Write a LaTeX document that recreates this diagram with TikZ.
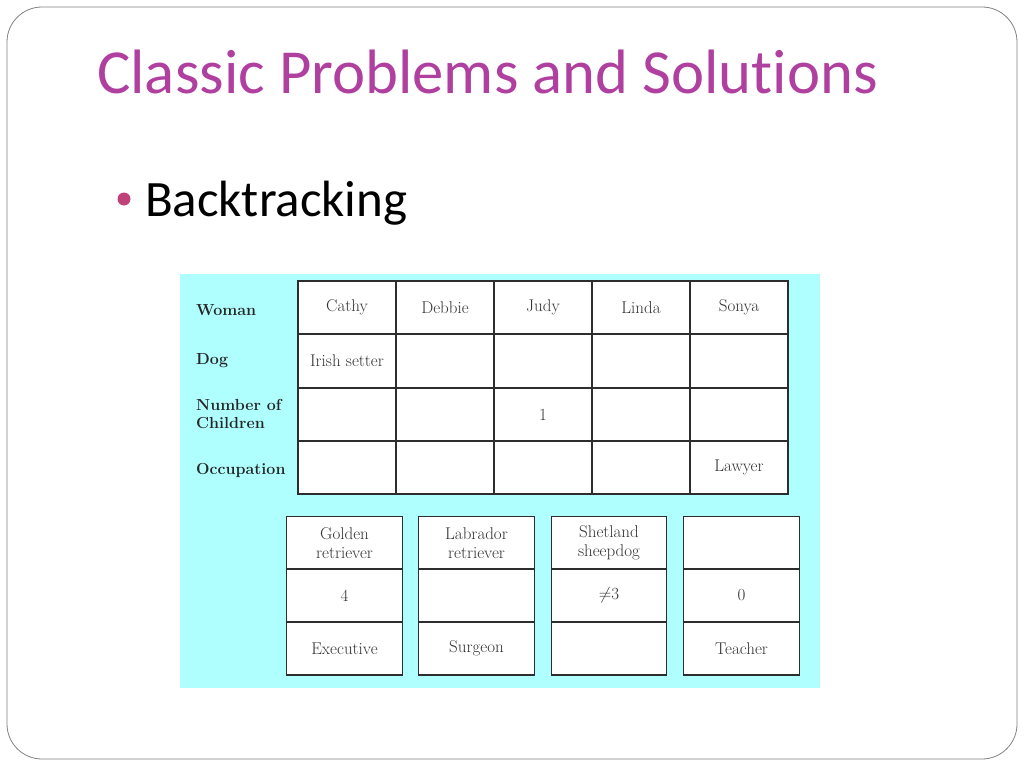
\documentclass[tikz,border=0pt]{standalone}
\usepackage{fontspec}
\newfontfamily\slidefont[Ligatures=NoCommon]{Carlito}
\definecolor{titlepurple}{RGB}{176,64,160}
\definecolor{bulletpink}{RGB}{192,64,120}
\definecolor{tablecyan}{RGB}{176,255,255}
\definecolor{gridgray}{RGB}{45,45,45}

\begin{document}
\begin{tikzpicture}[x=1pt,y=-1pt,
  cell/.style={draw=gridgray, line width=1.4pt, fill=white, minimum width=98pt,
    minimum height=53.25pt, inner sep=0pt, align=center, text=black!80,
    font=\fontsize{17}{19}\selectfont},
  card/.style={cell, minimum width=115.5pt, minimum height=53pt},
  rowlabel/.style={anchor=west, inner sep=0pt, align=left, text=black!85,
    font=\fontsize{16}{18}\selectfont\bfseries}]

  \useasboundingbox (0,0) rectangle (1024,768);
  \draw[gray, line width=0.8pt, rounded corners=35pt] (7,7) rectangle (1017,759);

  % slide title and bullet
  \node[anchor=base west, inner sep=0pt, text=titlepurple,
    font=\slidefont\fontsize{62.7}{64}\selectfont] (title) at (97,93) {Classic Problems and Solutions};
  \node[circle, fill=bulletpink, minimum size=13pt, inner sep=0pt] (dot) at (124,199) {};
  \node[anchor=base west, inner sep=0pt,
    font=\slidefont\fontsize{51}{53}\selectfont] (topic) at (145,216) {Backtracking};

  \fill[tablecyan] (180,274) rectangle (820,688);

  % row labels
  \node[rowlabel] (lwoman) at (196,310) {Woman};
  \node[rowlabel] (ldog) at (196,361) {Dog};
  \node[rowlabel] (lchild) at (196,414) {Number of\\Children};
  \node[rowlabel] (ljob) at (196,470) {Occupation};

  % top table
  \node[cell] (w1) at (347,307.5) {Cathy};
  \node[cell] (w2) at (445,307.5) {Debbie};
  \node[cell] (w3) at (543,307.5) {Judy};
  \node[cell] (w4) at (641,307.5) {Linda};
  \node[cell] (w5) at (739,307.5) {Sonya};

  \node[cell] (d1) at (347,361) {Irish setter};
  \node[cell] (d2) at (445,361) {};
  \node[cell] (d3) at (543,361) {};
  \node[cell] (d4) at (641,361) {};
  \node[cell] (d5) at (739,361) {};

  \node[cell] (n1) at (347,414.5) {};
  \node[cell] (n2) at (445,414.5) {};
  \node[cell] (n3) at (543,414.5) {1};
  \node[cell] (n4) at (641,414.5) {};
  \node[cell] (n5) at (739,414.5) {};

  \node[cell] (o1) at (347,467.5) {};
  \node[cell] (o2) at (445,467.5) {};
  \node[cell] (o3) at (543,467.5) {};
  \node[cell] (o4) at (641,467.5) {};
  \node[cell] (o5) at (739,467.5) {Lawyer};

  % leftover cards
  \node[card] (gd1) at (344.5,543) {Golden\\retriever};
  \node[card] (gn1) at (344.5,595.5) {4};
  \node[card] (go1) at (344.5,648.5) {Executive};

  \node[card] (gd2) at (476.5,543) {Labrador\\retriever};
  \node[card] (gn2) at (476.5,595.5) {};
  \node[card] (go2) at (476.5,648.5) {Surgeon};

  \node[card] (gd3) at (609,543) {Shetland\\sheepdog};
  \node[card] (gn3) at (609,595.5) {$\neq$3};
  \node[card] (go3) at (609,648.5) {};

  \node[card] (gd4) at (741.5,543) {};
  \node[card] (gn4) at (741.5,595.5) {0};
  \node[card] (go4) at (741.5,648.5) {Teacher};

\end{tikzpicture}
\end{document}
